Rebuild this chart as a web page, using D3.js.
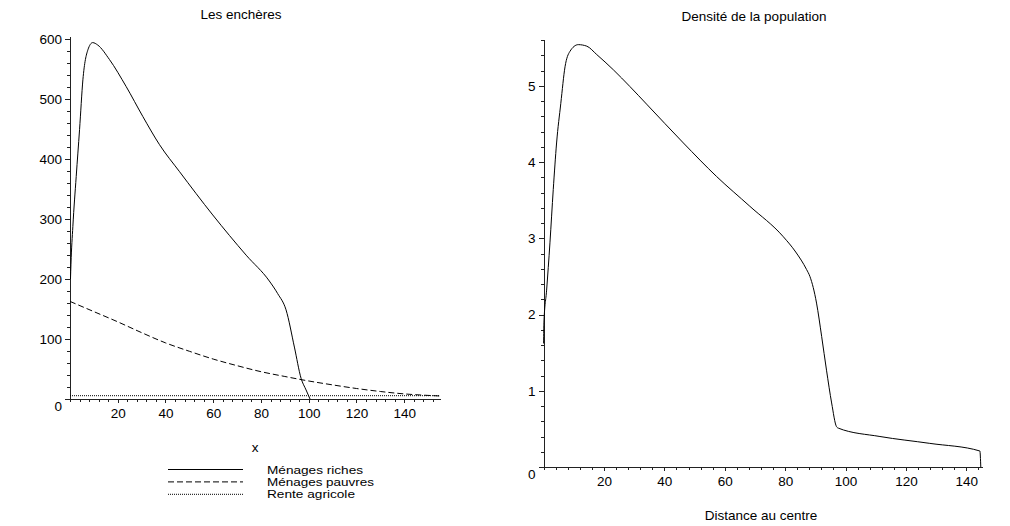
<!DOCTYPE html>
<html><head><meta charset="utf-8">
<script src="https://cdn.jsdelivr.net/npm/d3@7"></script>
<style>
body{margin:0;background:#fff}
svg{display:block;background:#fff}
text{font-family:"Liberation Sans",Arial,sans-serif;fill:#000}
</style>
</head><body><svg id="c" width="1010" height="526"></svg>
<script>
// ---- Data: "Les enchères" ----
const richX = [0.2, 0.4, 1.2, 2.6, 4.0, 5.4, 7.5, 9.5, 11.6, 16.5, 23.5, 30.5, 37.5, 45.9, 59.8, 73.8, 83.5, 87, 90.5, 94, 96.8, 98.9, 100.6];
const richV = [200, 225, 288, 371, 449, 532, 582, 594, 590, 566, 521, 471, 424, 379, 307, 240, 197, 176, 149, 87, 35, 15.5, 0];
const poorX = [0, 10, 20, 30, 40, 50, 60, 70, 80, 90, 100, 110, 120, 130, 140, 150, 155];
const poorV = [163, 146, 129, 111, 94, 80, 67, 56, 46, 38, 30.5, 24, 18, 13, 9, 6.5, 5.5];
const renteX = [0, 155];
const renteV = [6, 6];
const leftXTicks = [20, 40, 60, 80, 100, 120, 140];
const leftYTicks = [0, 100, 200, 300, 400, 500, 600];
const legendLabels = ["Ménages riches", "Ménages pauvres", "Rente agricole"];

// ---- Data: "Densité de la population" ----
const densX = [0, 0.1, 1.0, 2.1, 3.2, 4.3, 5.7, 7.1, 8.7, 11.5, 14.3, 17.6, 23.1, 28.6, 34.1, 46.3, 57.3, 68.3, 79.4, 83.5, 87.1, 88.2, 90.4, 92.1, 93.7, 95.4, 97.0, 97.6, 111.4, 127.9, 144.5, 144.8];
const densV = [1.62, 1.89, 2.32, 2.94, 3.64, 4.25, 4.77, 5.25, 5.45, 5.54, 5.52, 5.41, 5.21, 4.99, 4.76, 4.25, 3.81, 3.42, 3.02, 2.82, 2.59, 2.5, 2.15, 1.71, 1.27, 0.84, 0.53, 0.51, 0.40, 0.31, 0.21, 0.0];
const rightXTicks = [20, 40, 60, 80, 100, 120, 140];
const rightYTicks = [0, 1, 2, 3, 4, 5];

const svg = d3.select("#c");

function axes(g, x, y, xTicks, xMinor, yTicks, yMinor) {
  const fs = "13.5px";
  const ym = g.append("g").attr("transform", `translate(${x.range()[0]},0)`)
    .call(d3.axisLeft(y).tickValues(yMinor).tickSize(3).tickSizeOuter(0).tickFormat(""));
  ym.select(".domain").remove();
  const xm = g.append("g").attr("transform", `translate(0,${y.range()[0]})`)
    .call(d3.axisBottom(x).tickValues(xMinor).tickSize(3).tickSizeOuter(0).tickFormat(""));
  xm.select(".domain").remove();
  const ya = g.append("g").attr("transform", `translate(${x.range()[0]},0)`)
    .call(d3.axisLeft(y).tickValues(yTicks).tickSize(5).tickSizeOuter(0).tickPadding(3).tickFormat(d3.format("d")));
  ya.selectAll(".tick text").filter(d => d === 0).attr("y", 7);
  g.append("g").attr("transform", `translate(0,${y.range()[0]})`)
    .call(d3.axisBottom(x).tickValues(xTicks).tickSize(4).tickSizeOuter(0).tickPadding(5).tickFormat(d3.format("d")));
  g.selectAll(".tick text").attr("font-size", fs).attr("font-family", "Liberation Sans, Arial, sans-serif").attr("fill", "#000");
  g.selectAll(".domain, .tick line").attr("stroke", "#222").attr("shape-rendering", "crispEdges");
}

// ---- Left chart ----
const xL = d3.scaleLinear().domain([0, 155]).range([70, 440]);
const yL = d3.scaleLinear().domain([0, 605]).range([399.3, 36]);
const gL = svg.append("g");
axes(gL, xL, yL, leftXTicks, d3.range(0, 156, 4), leftYTicks, d3.range(0, 601, 20));

const lineL = d3.line().x(d => xL(d[0])).y(d => yL(d[1])).curve(d3.curveMonotoneX);
gL.append("path").datum(d3.zip(renteX, renteV)).attr("d", lineL)
  .attr("fill", "none").attr("stroke", "#000").attr("stroke-width", 1).attr("stroke-dasharray", "1,1");
gL.append("path").datum(d3.zip(poorX, poorV)).attr("d", lineL)
  .attr("fill", "none").attr("stroke", "#000").attr("stroke-width", 1).attr("stroke-dasharray", "6,3");
gL.append("path").datum(d3.zip(richX, richV)).attr("d", lineL)
  .attr("fill", "none").attr("stroke", "#000").attr("stroke-width", 1);

gL.append("text").attr("x", 241).attr("y", 19).attr("text-anchor", "middle").attr("font-size", "13.5px").text("Les enchères");
gL.append("text").attr("x", 255).attr("y", 451.5).attr("text-anchor", "middle").attr("font-size", "13.5px").text("x");

// legend
const dashes = [null, "6,3", "1,1"];
const legendWidths = [96, 107, 88];
legendLabels.forEach((lab, i) => {
  const yy = 469.5 + i * 12.4;
  const ln = gL.append("line").attr("x1", 168).attr("x2", 243).attr("y1", yy).attr("y2", yy)
    .attr("stroke", "#000").attr("stroke-width", 1);
  if (dashes[i]) ln.attr("stroke-dasharray", dashes[i]);
  gL.append("text").attr("x", 267).attr("y", yy + 4).attr("font-size", "11px")
    .attr("textLength", legendWidths[i]).attr("lengthAdjust", "spacingAndGlyphs").text(lab);
});

// ---- Right chart ----
const xR = d3.scaleLinear().domain([0, 145.2]).range([543.6, 982]);
const yR = d3.scaleLinear().domain([0, 5.61]).range([467, 39.3]);
const gR = svg.append("g");
axes(gR, xR, yR, rightXTicks, d3.range(0, 145, 4), rightYTicks, d3.range(0, 5.61, 0.2));
const lineR = d3.line().x(d => xR(d[0])).y(d => yR(d[1])).curve(d3.curveMonotoneX);
gR.append("path").datum(d3.zip(densX, densV)).attr("d", lineR)
  .attr("fill", "none").attr("stroke", "#000").attr("stroke-width", 1);
gR.append("text").attr("x", 754).attr("y", 21).attr("text-anchor", "middle").attr("font-size", "13.5px").text("Densité de la population");
gR.append("text").attr("x", 761).attr("y", 520).attr("text-anchor", "middle").attr("font-size", "13.5px").text("Distance au centre");
</script>
</body></html>
